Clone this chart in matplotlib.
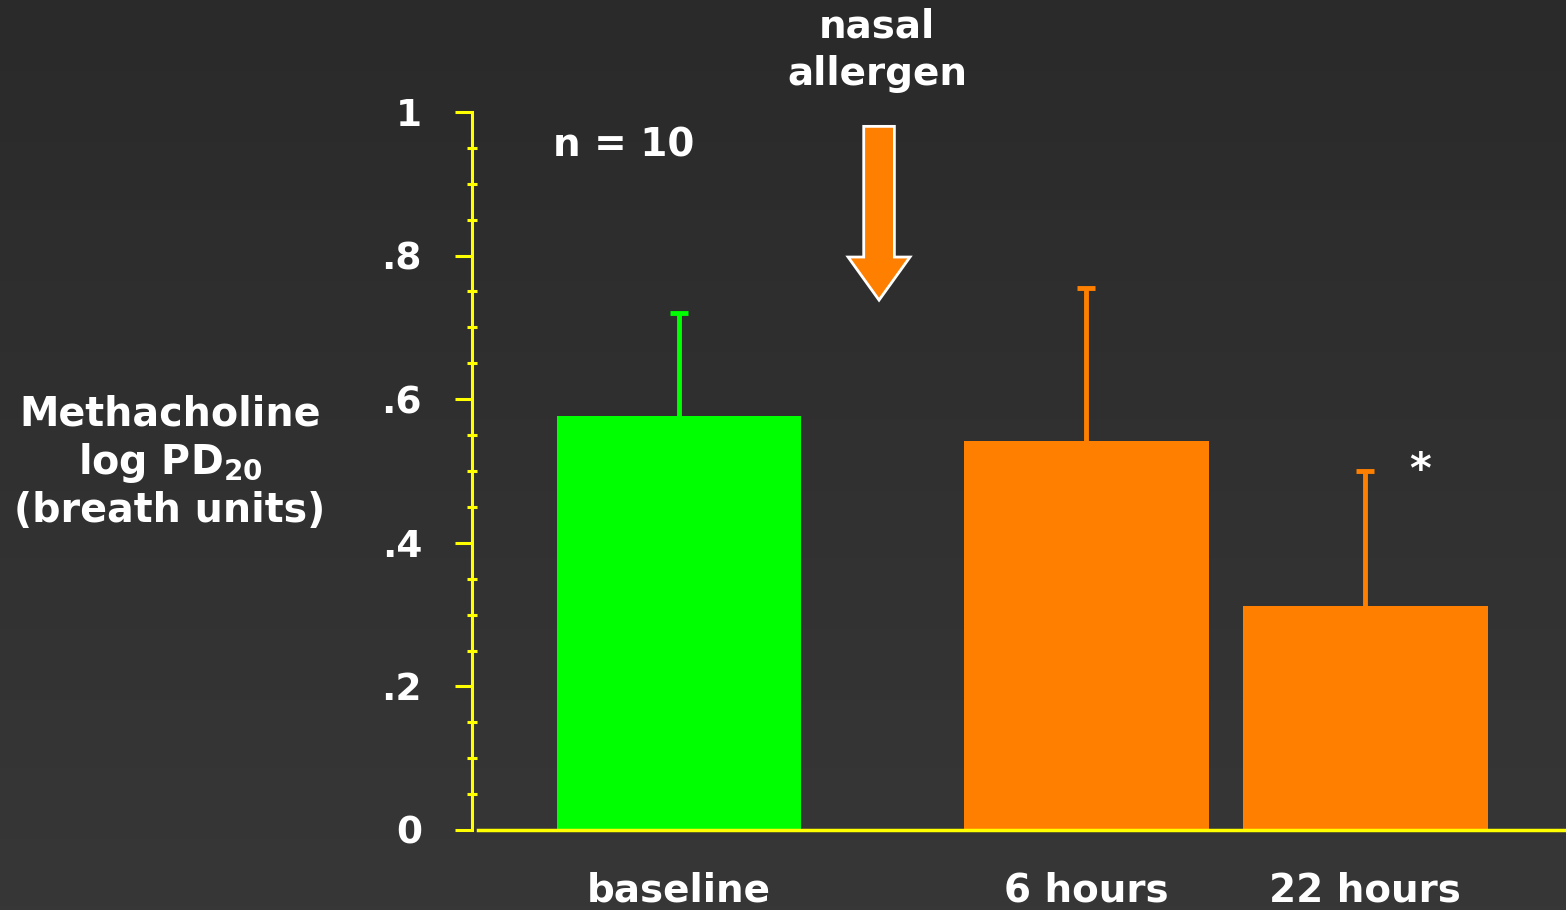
import numpy as np
import matplotlib
matplotlib.use("Agg")
import matplotlib.pyplot as plt
from matplotlib.patches import FancyArrow
from matplotlib.colors import LinearSegmentedColormap

plt.rcParams['font.family'] = ['DejaVu Sans']
plt.rcParams['font.weight'] = 'bold'
plt.rcParams['mathtext.default'] = 'bf'

# data
categories = ["baseline", "6 hours", "22 hours"]
means = [0.577, 0.542, 0.312]
sem_up = [0.143, 0.213, 0.188]
bar_colors = ["#00ff00", "#ff8000", "#ff8000"]
ytick_vals = [0, 0.2, 0.4, 0.6, 0.8, 1.0]
ytick_labels = ["0", ".2", ".4", ".6", ".8", "1"]

# layout positions (x in bar units)
xpos = [0.0, 1.46, 2.46]
bar_w = 0.878
yellow = "#ffff00"
white = "white"

fig = plt.figure(figsize=(15.66, 9.10), dpi=100)

# dark gradient background
bg = fig.add_axes([0, 0, 1, 1], zorder=-10)
grad = np.linspace(0, 1, 256).reshape(-1, 1)
bg_cmap = LinearSegmentedColormap.from_list("bg", ["#2a2a2a", "#373737"])
bg.imshow(grad, aspect="auto", cmap=bg_cmap, extent=[0, 1, 0, 1], origin="upper")
bg.axis("off")

W, H = 1566, 910
left = 472 / W
bottom = 1 - 830 / H
top = 1 - 112 / H
ax = fig.add_axes([left, bottom, 1 - left, top - bottom])
ax.patch.set_alpha(0)

for x, m, e, c in zip(xpos, means, sem_up, bar_colors):
    ax.bar(x, m, width=bar_w, color=c, zorder=2)
    eb = ax.errorbar(x, m, yerr=[[0], [e]], color=c, elinewidth=3.5,
                     capsize=6.5, capthick=3.5, zorder=1)
    # only the upper cap is shown
    for cl in eb[1]:
        if np.allclose(cl.get_ydata(), m):
            cl.set_visible(False)

ax.set_ylim(0, 1)
ax.set_xlim((472 - 679) / 279, (1566 - 679) / 279)

for s in ["top", "right"]:
    ax.spines[s].set_visible(False)
ax.spines["left"].set_color(yellow)
ax.spines["left"].set_linewidth(2.2)
ax.spines["bottom"].set_color(yellow)
ax.spines["bottom"].set_linewidth(2.5)
ax.spines["bottom"].set_bounds((478 - 679) / 279, (1566 - 679) / 279)

ax.set_yticks(ytick_vals)
ax.set_yticklabels(ytick_labels, fontsize=27, color=white, fontweight="bold")
ax.set_yticks(np.arange(0.05, 1.0, 0.05), minor=True)
ax.tick_params(axis="y", which="major", length=12, width=2.2, color=yellow,
               direction="out", pad=24)
ax.tick_params(axis="y", which="minor", length=7, width=2.2, color=yellow,
               direction="inout")

ax.set_xticks(xpos)
ax.set_xticklabels(categories, fontsize=28, color=white, fontweight="bold")
ax.tick_params(axis="x", length=0, pad=30)

# nasal allergen arrow
ax.add_patch(FancyArrow(0.717, 0.98, 0, -0.242, width=0.11, head_width=0.222,
                        head_length=0.06, length_includes_head=True,
                        facecolor="#ff8000", edgecolor=white, linewidth=2,
                        clip_on=False, zorder=3))

fig.text(877 / W, 1 - 50 / H, "nasal\nallergen", ha="center", va="center",
         fontsize=28, color=white, fontweight="bold", linespacing=1.32)
ax.text(-0.2, 0.953, "n = 10", ha="center", va="center",
        fontsize=28, color=white, fontweight="bold")
ax.text((1420 - 679) / 279, 0.50, "*", ha="center", va="center",
        fontsize=30, color=white, fontweight="bold")

fig.text(170 / W, 1 - 463 / H, "Methacholine\nlog PD$_{20}$\n(breath units)",
         ha="center", va="center", fontsize=28.5, color=white,
         fontweight="bold", linespacing=1.2)

fig.savefig("out.png", dpi=100)
